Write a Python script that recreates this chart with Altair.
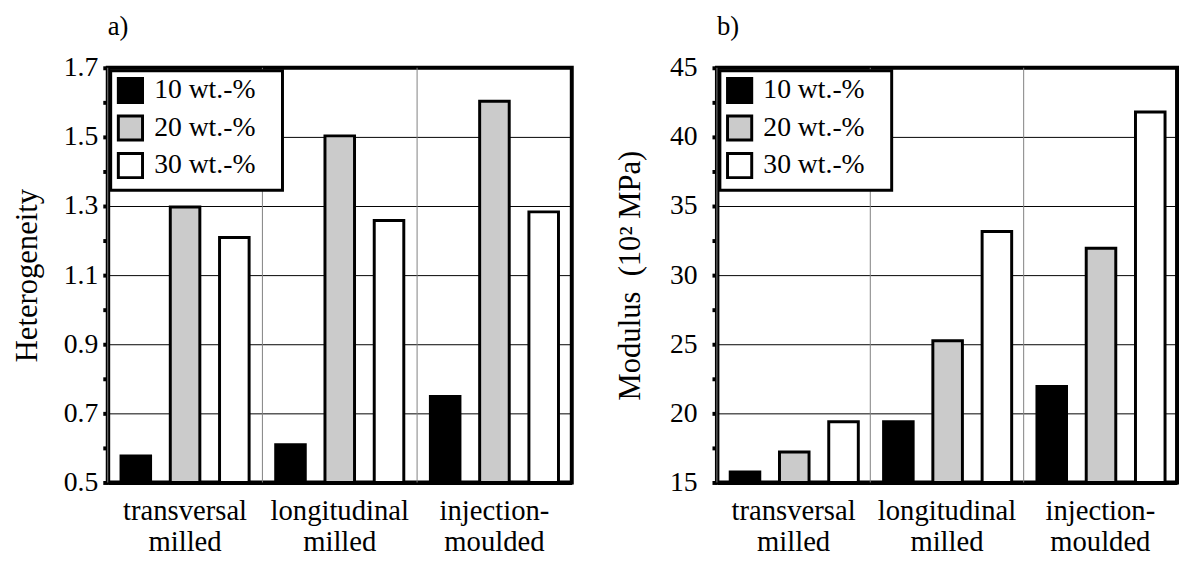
import altair as alt
import pandas as pd

FONT = "Liberation Serif"

categories = ["transversal|milled", "longitudinal|milled", "injection-|moulded"]
series = ["10 wt.-%", "20 wt.-%", "30 wt.-%"]
fill_colors = ["#000000", "#cbcbcb", "#ffffff"]

het_10 = [0.577, 0.609, 0.749]
het_20 = [1.297, 1.503, 1.603]
het_30 = [1.209, 1.258, 1.283]

mod_10 = [15.75, 19.4, 21.95]
mod_20 = [17.2, 25.25, 31.95]
mod_30 = [19.4, 33.15, 41.8]

het_ticks = [0.5, 0.6, 0.7, 0.8, 0.9, 1.0, 1.1, 1.2, 1.3, 1.4, 1.5, 1.6, 1.7]
mod_ticks = [15, 17.5, 20, 22.5, 25, 27.5, 30, 32.5, 35, 37.5, 40, 42.5, 45]


def long_frame(s10, s20, s30):
    rows = []
    for name, vals in zip(series, [s10, s20, s30]):
        for c, v in zip(categories, vals):
            rows.append({"cat": c, "series": name, "value": v})
    return pd.DataFrame(rows)


def panel(df, ticks, ymin, ymax, fmt, major_test, tag, ytitle, width,
          label_pad, title_pad):
    xaxis = alt.Axis(
        title=None, ticks=False, labelAngle=0, labelFont=FONT,
        labelFontSize=29, labelColor="black", labelPadding=15,
        labelLineHeight=31, labelBaseline="top",
        labelExpr="split(datum.label, '|')", domainColor="black",
        domainWidth=4, grid=False,
    )
    yaxis = alt.Axis(
        values=ticks, format=fmt,
        labelExpr="(" + major_test + ") ? datum.label : ''",
        grid=True, gridColor="black", gridWidth=1,
        gridOpacity={"condition": {"test": major_test, "value": 1}, "value": 0},
        ticks=True, tickColor="black", tickWidth=4, tickSize=5,
        domainColor="black", domainWidth=4,
        labelFont=FONT, labelFontSize=28, labelColor="black",
        labelPadding=label_pad,
        titleFont=FONT, titleFontSize=31, titleFontWeight="normal",
        titleColor="black", titlePadding=title_pad,
    )
    legend = alt.Legend(
        title=None, orient="top-left", offset=3, fillColor="white",
        strokeColor="black", padding=6, symbolType="square",
        symbolSize=600, symbolStrokeWidth=3, symbolStrokeColor="black",
        labelFont=FONT, labelFontSize=28, labelColor="black",
        labelOffset=10, rowPadding=0,
        labelExpr="datum.label + '\u2800'",
    )
    xscale = alt.Scale(paddingInner=0, paddingOuter=0)
    rules = alt.Chart(pd.DataFrame({"cat": categories})).mark_rule(
        color="#808080", strokeWidth=1
    ).encode(
        x=alt.X("cat:N", sort=categories, bandPosition=0, scale=xscale,
                axis=xaxis),
    )
    bars = alt.Chart(df).mark_bar(stroke="black", strokeWidth=3).encode(
        x=alt.X("cat:N", sort=categories, scale=xscale, axis=xaxis),
        xOffset=alt.XOffset("series:N", sort=series,
                            scale=alt.Scale(paddingInner=0.4, paddingOuter=0.27)),
        y=alt.Y("value:Q", title=ytitle,
                scale=alt.Scale(domain=[ymin, ymax], nice=False, zero=False),
                axis=yaxis),
        y2=alt.datum(ymin),
        color=alt.Color("series:N", sort=series,
                        scale=alt.Scale(domain=series, range=fill_colors),
                        legend=legend),
    )
    return alt.layer(rules, bars).properties(
        width=width, height=420,
        title=alt.TitleParams(tag, anchor="start", frame="group", font=FONT,
                              fontSize=27, fontWeight="normal", color="black",
                              offset=13),
    )


pa = panel(long_frame(het_10, het_20, het_30), het_ticks, 0.5, 1.7, ".1f",
           "round(datum.value*10) % 2 == 1", "a)", "Heterogeneity", 470, 5, 20)
pb = panel(long_frame(mod_10, mod_20, mod_30), mod_ticks, 15, 45, ".0f",
           "datum.value % 5 == 0", "b)", "Modulus\u00a0 (10\u00b2 MPa)", 466, 15, 23)

chart = alt.hconcat(pa, pb, spacing=40).resolve_scale(
    color="independent", y="independent"
).resolve_legend(color="independent").properties(
    padding={"left": 2, "top": 0, "right": 0, "bottom": 0},
    background="white",
).configure_view(
    stroke="black", strokeWidth=4
).configure_legend(
    strokeWidth=3
)

chart.save("out.html", embed_options={"renderer": "svg", "actions": False})
